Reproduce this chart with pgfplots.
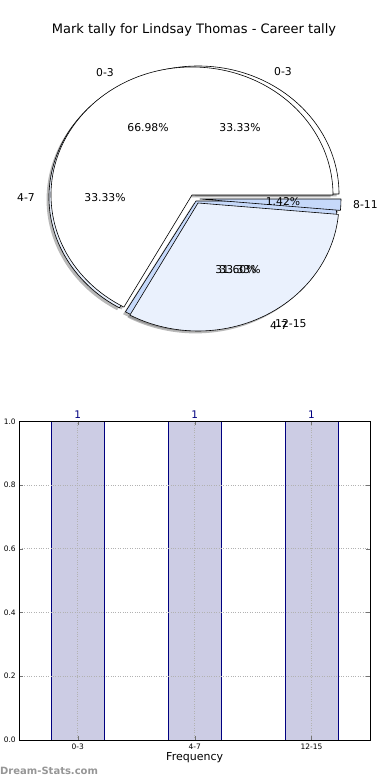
\documentclass[border=0pt]{standalone}
\usepackage{pgfplots}
\pgfplotsset{compat=1.18}
\usepackage{fontspec}
\setmainfont{DejaVu Sans}
\definecolor{barfill}{RGB}{204,204,228}
\definecolor{navy}{RGB}{0,0,128}
\definecolor{sliceA}{RGB}{234,241,253}
\definecolor{sliceB}{RGB}{198,217,250}
\definecolor{wm}{RGB}{150,150,150}
% pie slice: dx dy start end fill
\newcommand{\pieslice}[5]{%
  \filldraw[fill=#5, draw=black, line width=0.6pt, line join=round]
    ([shift={(#1pt,#2pt)}]axis cs:192,585) -- ++(#3:141pt and 128pt)
    arc[start angle=#3, end angle=#4, x radius=141pt, y radius=128pt] -- cycle;}
\newcommand{\pieshadow}[4]{%
  \fill[black!55, opacity=0.5]
    ([shift={(#1pt-2.4pt,#2pt-2.4pt)}]axis cs:192,585) -- ++(#3:141pt and 128pt)
    arc[start angle=#3, end angle=#4, x radius=141pt, y radius=128pt] -- cycle;}
\begin{document}
\begin{tikzpicture}
\useasboundingbox (0pt,0pt) rectangle (390pt,780pt);
% pie values (percent)
\pgfmathsetmacro{\Aa}{66.98*3.6}
\pgfmathsetmacro{\Ab}{(66.98+31.60)*3.6}
\pgfmathsetmacro{\Ba}{33.33*3.6}
\pgfmathsetmacro{\Bb}{(33.33+33.33)*3.6}
\begin{axis}[at={(0pt,420pt)}, anchor=south west, scale only axis,
  width=390pt, height=360pt, xmin=0, xmax=390, ymin=420, ymax=780,
  hide axis, clip=false]
  % shadows
  \pieshadow{6}{1}{0}{\Ba}
  \pieshadow{-2}{-2}{\Ba}{\Bb}
  \pieshadow{4}{-6}{\Bb}{360}
  \pieshadow{0}{0}{0}{\Aa}
  \pieshadow{6}{-8}{\Aa}{\Ab}
  \pieshadow{8}{-4}{\Ab}{360}
  % pie B
  \pieslice{6}{1}{0}{\Ba}{white}
  \pieslice{-2}{-2}{\Ba}{\Bb}{sliceA}
  \pieslice{4}{-6}{\Bb}{360}{sliceB}
  % pie A
  \pieslice{0}{0}{0}{\Aa}{white}
  \pieslice{6}{-8}{\Aa}{\Ab}{sliceA}
  \pieslice{8}{-4}{\Ab}{360}{sliceB}
  % labels
  \begin{scope}[every node/.style={font=\fontsize{10.8}{12}\selectfont, inner sep=0pt}]
  \node at (axis cs:105,707) {0-3};
  \node at (axis cs:283,708) {0-3};
  \node[anchor=east] at (axis cs:35,582) {4-7};
  \node[anchor=west] at (axis cs:270,454) {4-7};
  \node[anchor=west] at (axis cs:275,456) {12-15};
  \node[anchor=west] at (axis cs:353,575) {8-11};
  \node at (axis cs:148,652) {66.98\%};
  \node at (axis cs:240,652) {33.33\%};
  \node at (axis cs:105,582) {33.33\%};
  \node at (axis cs:283,578) {1.42\%};
  \node at (axis cs:236,510) {31.60\%};
  \node at (axis cs:240,510) {33.33\%};
  \node at (axis cs:194,750) {\fontsize{13}{15}\selectfont Mark tally for Lindsay Thomas - Career tally};
  \end{scope}
\end{axis}
\begin{axis}[at={(19.3pt,40pt)}, anchor=south west, scale only axis,
  width=350.7pt, height=318.7pt,
  xmin=-0.5, xmax=2.5, ymin=0, ymax=1,
  xtick={0,1,2}, xticklabels={0-3,4-7,12-15},
  ytick={0,0.2,0.4,0.6,0.8,1.0},
  yticklabel style={/pgf/number format/.cd, fixed, fixed zerofill, precision=1},
  /pgf/number format/assume math mode=true,
  ticklabel style={font=\fontsize{7.5}{8}\selectfont},
  xlabel={Frequency}, xlabel style={font=\fontsize{11}{12}\selectfont, yshift=4pt},
  grid=major, major grid style={dotted, gray!60, line width=0.8pt},
  axis on top,
  major tick length=4pt, tick style={black!55},
  axis line style={black, line width=0.8pt},
  clip=false,
  nodes near coords,
  every node near coord/.append style={font=\fontsize{10.5}{12}\selectfont, text=navy, yshift=-1pt},
  ]
  \addplot[ybar, bar width=0.45, fill=barfill, draw=navy, line width=0.7pt] coordinates {(0,1) (1,1) (2,1)};
\end{axis}
\node[anchor=west, text=wm, font=\bfseries\fontsize{10}{12}\selectfont, inner sep=0pt] at (0pt,9pt) {Dream-Stats.com};
\end{tikzpicture}
\end{document}
